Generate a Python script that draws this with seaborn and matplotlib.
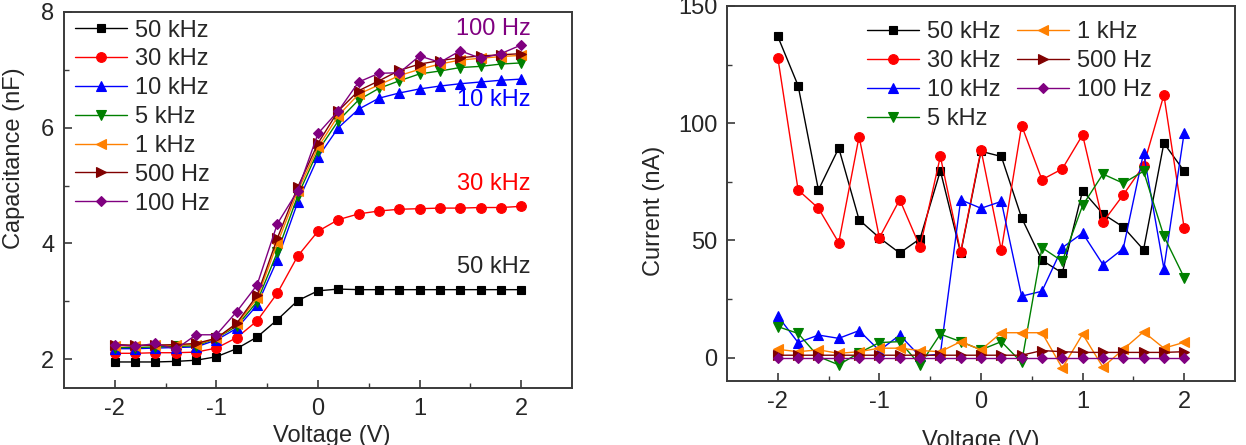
import numpy as np
import pandas as pd
import matplotlib
matplotlib.use("Agg")
import matplotlib.pyplot as plt
import seaborn as sns

sns.set_theme(style="white")
plt.rcParams['font.family'] = ['Liberation Sans', 'DejaVu Sans']

# ---------------- data ----------------
voltage = [-2.0, -1.8, -1.6, -1.4, -1.2, -1.0, -0.8, -0.6, -0.4, -0.2, 0.0,
           0.2, 0.4, 0.6, 0.8, 1.0, 1.2, 1.4, 1.6, 1.8, 2.0]

series_names = ["50 kHz", "30 kHz", "10 kHz", "5 kHz", "1 kHz", "500 Hz", "100 Hz"]

# Capacitance (nF)
cap_50k = [1.95, 1.95, 1.95, 1.96, 1.98, 2.04, 2.18, 2.38, 2.68, 3.01, 3.18,
           3.21, 3.20, 3.20, 3.20, 3.20, 3.20, 3.20, 3.20, 3.20, 3.20]
cap_30k = [2.10, 2.10, 2.11, 2.11, 2.12, 2.19, 2.37, 2.66, 3.14, 3.78, 4.21,
           4.41, 4.51, 4.56, 4.59, 4.60, 4.61, 4.61, 4.62, 4.62, 4.64]
cap_10k = [2.18, 2.18, 2.19, 2.20, 2.21, 2.33, 2.53, 2.93, 3.72, 4.71, 5.49,
           6.00, 6.32, 6.51, 6.60, 6.67, 6.72, 6.76, 6.79, 6.82, 6.84]
cap_5k = [2.20, 2.20, 2.21, 2.22, 2.23, 2.36, 2.57, 2.99, 3.85, 4.82, 5.60,
          6.12, 6.48, 6.68, 6.81, 6.93, 6.98, 7.04, 7.06, 7.10, 7.12]
cap_1k = [2.23, 2.23, 2.24, 2.24, 2.25, 2.36, 2.60, 3.05, 4.00, 4.90, 5.66,
          6.21, 6.58, 6.74, 6.90, 7.01, 7.10, 7.17, 7.20, 7.23, 7.25]
cap_500 = [2.25, 2.24, 2.24, 2.25, 2.27, 2.36, 2.62, 3.10, 4.09, 4.97, 5.73,
           6.29, 6.64, 6.81, 6.99, 7.10, 7.16, 7.21, 7.24, 7.26, 7.28]
cap_100 = [2.25, 2.22, 2.27, 2.17, 2.42, 2.42, 2.82, 3.28, 4.34, 4.91, 5.90,
           6.29, 6.79, 6.94, 6.95, 7.24, 7.13, 7.33, 7.20, 7.28, 7.43]

# Current (nA)
cur_50k = [137, 116, 71.5, 89.4, 58.8, 51.1, 44.6, 50.7, 79.7, 44.6, 88.0,
           85.8, 59.6, 41.5, 36.1, 71.2, 61.3, 55.7, 46.0, 91.5, 79.5]
cur_30k = [128, 71.5, 63.7, 49.0, 94.3, 51.1, 67.4, 47.2, 85.8, 45.0, 88.7,
           45.8, 99.0, 75.9, 80.5, 95.0, 57.8, 69.4, 81.9, 112, 55.2]
cur_10k = [17.7, 6.4, 9.6, 8.2, 11.5, 3.0, 9.6, 0.5, 1.5, 67.3, 63.7,
           66.6, 26.2, 28.3, 46.9, 53.1, 39.7, 46.5, 87.3, 38.0, 96.0]
cur_5k = [13.2, 10.3, 0.4, -3.1, 2.0, 6.4, 6.8, -3.1, 10.0, 6.8, 3.3,
          6.8, -2.1, 46.9, 41.1, 64.9, 78.3, 74.4, 79.5, 51.8, 34.1]
cur_1k = [3.5, 2.5, 3.3, 1.8, 2.5, 4.0, 4.0, 3.0, 2.5, 6.8, 3.3,
          10.6, 10.6, 10.6, -4.5, 10.0, -4.1, 3.5, 11.0, 4.0, 6.5]
cur_500 = [1.0, 1.0, 1.0, 1.0, 1.0, 1.0, 1.0, 1.0, 1.0, 1.0, 1.0,
           1.0, 1.0, 3.0, 2.5, 2.2, 2.2, 2.2, 2.2, 2.2, 2.5]
cur_100 = [0.0, 0.0, 0.0, 0.0, 0.0, 0.0, 0.0, 0.0, 0.0, 0.0, 0.0,
           0.0, 0.0, 0.0, 0.0, 0.0, 0.0, 0.0, 0.0, 0.0, 0.0]

cap_values = [cap_50k, cap_30k, cap_10k, cap_5k, cap_1k, cap_500, cap_100]
cur_values = [cur_50k, cur_30k, cur_10k, cur_5k, cur_1k, cur_500, cur_100]

x_ticks = [-2, -1, 0, 1, 2]
cap_ticks = [2, 4, 6, 8]
cur_ticks = [0, 50, 100, 150]

# ---------------- style ----------------
colors = ["#000000", "#FF0000", "#0000FF", "#008000", "#FF8000", "#800000", "#800080"]
markers = ["s", "o", "^", "v", "<", ">", "D"]
msizes = [6.0, 7.0, 7.5, 7.5, 7.5, 7.5, 5.6]
FS = 17
TXT = "#262626"

fig = plt.figure(figsize=(12.46, 4.45), dpi=100)
ax1 = fig.add_axes([64 / 1246, 1 - 388 / 445, 508 / 1246, 376 / 445])
ax2 = fig.add_axes([727 / 1246, 1 - 381 / 445, 508 / 1246, 375 / 445])


def draw(ax, values):
    for name, vals, c, m, ms in zip(series_names, values, colors, markers, msizes):
        df = pd.DataFrame({"V": voltage, "Y": vals})
        sns.lineplot(data=df, x="V", y="Y", ax=ax, color=c, marker=m,
                     markersize=ms, markeredgecolor=c, markeredgewidth=0.8,
                     linewidth=1.0, label=name, legend=False)


draw(ax1, cap_values)
draw(ax2, cur_values)

for ax in (ax1, ax2):
    ax.set_xlim(-2.5, 2.5)
    ax.set_xticks(x_ticks)
    ax.set_xticks([-1.5, -0.5, 0.5, 1.5], minor=True)
    ax.set_xticklabels([str(t) for t in x_ticks])
    for s in ax.spines.values():
        s.set_color("#3a3a3a")
        s.set_linewidth(1.4)
    ax.tick_params(which="major", direction="in", length=6, width=1.2,
                   colors="#3a3a3a", labelcolor=TXT, labelsize=FS, pad=7,
                   top=False, right=False, bottom=True, left=True)
    ax.tick_params(which="minor", direction="in", length=3.5, width=1.0,
                   colors="#3a3a3a", top=False, right=False, bottom=True, left=True)
    ax.grid(False)
    ax.set_facecolor("white")

ax1.set_ylim(1.5, 8)
ax1.set_yticks(cap_ticks)
ax1.set_yticks([3, 5, 7], minor=True)
ax1.set_yticklabels([str(t) for t in cap_ticks])
ax2.set_ylim(-10, 150)
ax2.set_yticks(cur_ticks)
ax2.set_yticks([25, 75, 125], minor=True)
ax2.set_yticklabels([str(t) for t in cur_ticks])

ax1.set_xlabel("Voltage (V)", fontsize=FS, color=TXT, va="top")
ax1.set_ylabel("Capacitance (nF)", fontsize=FS, color=TXT)
ax2.set_xlabel("Voltage (V)", fontsize=FS, color=TXT, va="top")
ax2.set_ylabel("Current (nA)", fontsize=FS, color=TXT)
ax1.xaxis.set_label_coords(0.528, -0.098)
ax1.yaxis.set_label_coords(-0.077, 0.61)
ax2.xaxis.set_label_coords(0.5, -0.131)
ax2.yaxis.set_label_coords(-0.122, 0.453)

leg_kw = dict(frameon=False, fontsize=FS, handlelength=2.2, handletextpad=0.33,
              labelspacing=0.29, borderpad=0, borderaxespad=0, labelcolor=TXT)
ax1.legend(loc="upper left", bbox_to_anchor=(0.022, 0.980), ncol=1, **leg_kw)
ax2.legend(loc="upper left", bbox_to_anchor=(0.276, 0.959), ncol=2,
           columnspacing=0.7, **leg_kw)

# in-plot annotations (left panel)
ann = [("100 Hz", 7.71, "#800080"), ("10 kHz", 6.48, "#0000FF"),
       ("30 kHz", 5.03, "#FF0000"), ("50 kHz", 3.59, TXT)]
for txt, yv, c in ann:
    ax1.text(2.09, yv, txt, color=c, fontsize=FS, ha="right", va="center")

fig.savefig("out.png", dpi=100, facecolor="white")
